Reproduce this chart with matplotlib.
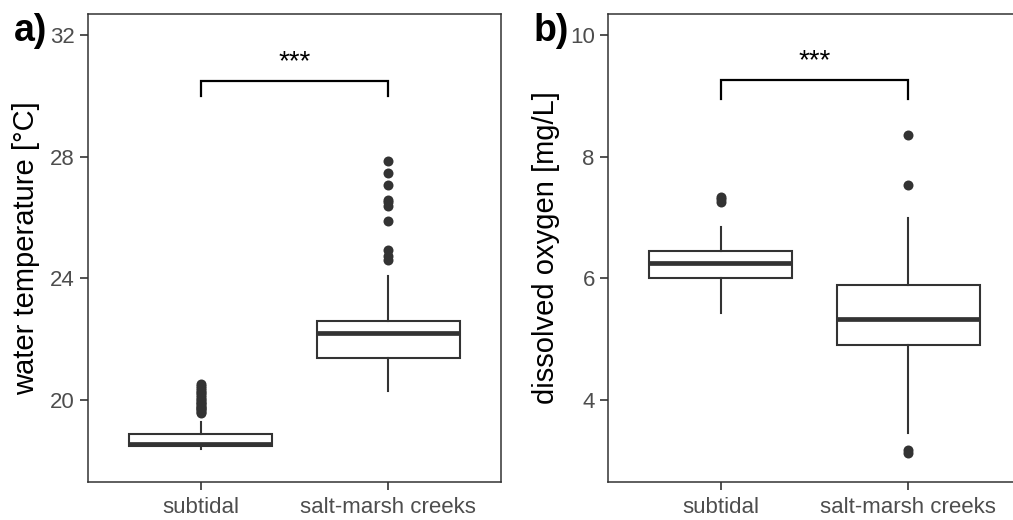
import matplotlib.pyplot as plt

plt.rcParams["font.family"] = ["Liberation Sans", "DejaVu Sans"]

categories = ["subtidal", "salt-marsh creeks"]

# water temperature [°C]
temp_q1 = [18.50, 21.38]
temp_med = [18.56, 22.20]
temp_q3 = [18.88, 22.59]
temp_whislo = [18.39, 20.30]
temp_whishi = [19.28, 24.07]
temp_fliers_subtidal = [19.58, 19.62, 19.66, 19.70, 19.74, 19.78, 19.82, 19.86,
                        19.90, 19.95, 20.00, 20.05, 20.10, 20.16, 20.22, 20.28,
                        20.34, 20.40, 20.46, 20.52]
temp_fliers_creeks = [24.59, 24.75, 24.92, 25.90, 26.39, 26.50, 26.59, 27.08,
                      27.48, 27.87]

# dissolved oxygen [mg/L]
oxy_q1 = [6.01, 4.91]
oxy_med = [6.25, 5.34]
oxy_q3 = [6.45, 5.89]
oxy_whislo = [5.44, 3.47]
oxy_whishi = [6.85, 6.99]
oxy_fliers_subtidal = [7.26, 7.30, 7.34]
oxy_fliers_creeks = [3.13, 3.18, 7.54, 8.36]

# significance brackets: (bar height, leg bottom, label height)
temp_sig = (30.5, 30.0, 31.1)
oxy_sig = (9.26, 8.95, 9.56)

DARK = "#333333"


def make_stats(q1, med, q3, lo, hi, fliers):
    return [dict(q1=q1[i], med=med[i], q3=q3[i], whislo=lo[i], whishi=hi[i],
                 fliers=fliers[i], label=categories[i])
            for i in range(len(categories))]


def draw_panel(ax, stats, ylim, yticks, ylabel, sig, tag, tag_x):
    ax.bxp(stats, positions=[1, 2], widths=0.76, showcaps=False,
           patch_artist=True,
           boxprops=dict(facecolor="white", edgecolor=DARK, linewidth=1.5),
           whiskerprops=dict(color=DARK, linewidth=1.5),
           medianprops=dict(color=DARK, linewidth=3.4, solid_capstyle="butt"),
           flierprops=dict(marker="o", markerfacecolor=DARK,
                           markeredgecolor="none", markersize=7.2))
    ax.set_xlim(0.4, 2.6)
    ax.set_ylim(*ylim)
    ax.set_yticks(yticks)
    ax.set_xticks([1, 2])
    ax.set_xticklabels(categories)
    ax.tick_params(axis="both", colors=DARK, length=5.5, width=1.2,
                   labelsize=16, labelcolor="#4D4D4D")
    ax.tick_params(axis="y", pad=4)
    ax.tick_params(axis="x", pad=5)
    for sp in ax.spines.values():
        sp.set_color(DARK)
        sp.set_linewidth(1.1)
    ax.set_ylabel(ylabel, fontsize=21, color="black")
    ax.yaxis.set_label_coords(-0.116, 0.5)

    bar, leg, lab = sig
    ax.plot([1, 1, 2, 2], [leg, bar, bar, leg], color="black",
            linewidth=1.6, solid_joinstyle="miter")
    ax.text(1.5, lab, "***", ha="center", va="center", fontsize=20)

    ax.figure.text(tag_x, 1 - 41 / 520, tag, fontsize=27,
                   fontweight="bold", va="baseline", ha="left")


fig = plt.figure(figsize=(10.13, 5.2), dpi=100)
ax_a = fig.add_axes([88 / 1013, 38 / 520, 413 / 1013, 468 / 520])
ax_b = fig.add_axes([608 / 1013, 38 / 520, 413 / 1013, 468 / 520])

draw_panel(ax_a,
           make_stats(temp_q1, temp_med, temp_q3, temp_whislo, temp_whishi,
                      [temp_fliers_subtidal, temp_fliers_creeks]),
           (17.31, 32.69), [20, 24, 28, 32], "water temperature [°C]",
           temp_sig, "a)", 14 / 1013)

draw_panel(ax_b,
           make_stats(oxy_q1, oxy_med, oxy_q3, oxy_whislo, oxy_whishi,
                      [oxy_fliers_subtidal, oxy_fliers_creeks]),
           (2.66, 10.34), [4, 6, 8, 10], "dissolved oxygen [mg/L]",
           oxy_sig, "b)", 534 / 1013)

fig.savefig("out.png", dpi=100)
